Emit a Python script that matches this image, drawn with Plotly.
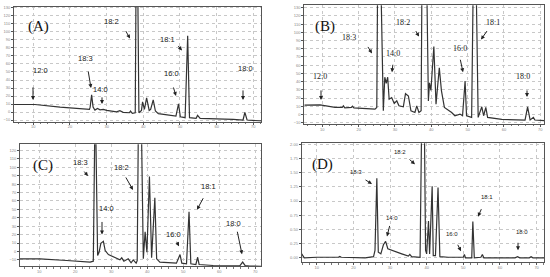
import plotly.graph_objects as go

W, H = 550, 277

# ---------------- data (retention time [min], detector signal) ----------------
a_time = [4.73, 10.0, 10.45, 17.3, 25.3, 25.5, 25.9, 26.3, 26.8, 27.5, 28.2, 29.1, 30.0, 32.7, 33.6,
          34.5, 36.2, 36.5, 37.0, 37.8, 38.0, 38.5, 38.8, 39.5, 39.8, 40.3, 40.9, 41.6, 42.0, 42.7,
          43.3, 44.1, 48.9, 49.6, 50.1, 51.4, 52.1, 52.6, 54.4, 54.8, 55.5, 64.5, 67.2, 67.7, 68.3, 72.1]
a_signal = [9.4, 10.2, 9.4, 6.1, 3.2, 6.1, 21.4, 6.1, 2.4, 4.5, 2.8, 3.2, 2.0, 0.3, 1.6,
            -0.5, -0.9, 1.2, -1.7, -0.9, 150, 150, -0.9, 2.0, 12.7, 3.2, 17.7, 2.0, 3.2, 15.2,
            1.2, -2.1, -5.0, 10.2, -5.9, -7.1, 95.4, -7.1, -7.9, -4.2, -7.9, -9.2, -10.0, -0.5, -10.0, -11.2]

b_time = [5.05, 9.4, 13.5, 15.5, 15.8, 16.2, 18.0, 18.3, 18.7, 24.5, 25.0, 25.2, 26.2, 26.8, 27.2, 27.6,
          28.0, 28.4, 29.1, 29.8, 30.5, 31.1, 32.3, 32.9, 33.7, 34.4, 35.5, 36.0, 36.6, 37.2, 37.4,
          38.8, 39.2, 39.5, 39.9, 40.7, 41.3, 42.2, 42.8, 43.6, 45.6, 46.5, 47.9, 48.6, 49.3, 49.7,
          51.1, 51.5, 52.4, 52.9, 53.9, 54.4, 55.0, 55.5, 59.4, 65.8, 66.5, 67.2, 68.1, 68.5, 71.1]
b_signal = [11.3, 11.7, 8.5, 8.5, 10.5, 8.0, 8.5, 10.0, 8.0, 6.5, 8.5, 145, 145, 4.5, 45.4, 38.0,
            45.4, 18.5, 20.5, 13.3, 16.5, 10.5, 9.3, 25.3, 22.5, 4.5, 2.4, 10.5, 2.4, 4.5, 145,
            145, 16.5, 38.6, 29.4, 82.8, 12.5, 56.7, 28.6, 8.5, 2.4, -1.6, 0.4, -1.6, 40.6, -1.6,
            -3.6, 145, 145, -3.6, 9.3, -1.6, 8.5, -3.6, -6.0, -6.8, 9.3, -6.8, -3.6, -6.8, -7.6]

c_time = [4.63, 10.2, 17.6, 24.1, 25.0, 25.4, 25.7, 26.2, 26.6, 27.1, 27.8, 28.3, 29.2, 30.6, 32.4,
          32.9, 33.5, 34.7, 35.5, 36.1, 36.9, 37.2, 37.5, 38.4, 38.9, 39.4, 39.9, 40.6, 41.2, 42.1,
          42.6, 43.5, 48.1, 49.1, 49.6, 50.9, 51.6, 52.1, 53.5, 54.0, 54.4, 58.3, 65.7, 66.5, 67.2,
          68.5, 71.6]
c_signal = [-8.8, -8.8, -10.8, -12.7, -11.6, 140, 140, -4.9, -1.0, 9.6, 12.0, 1.0, -3.7, -6.1, -10.0,
            -7.6, -11.6, -8.8, -13.5, -10.0, -13.9, -10.8, 140, 140, -8.8, 23.3, -1.0, 89.2, -7.6, 63.7,
            -8.8, -12.7, -13.9, -3.7, -13.9, -14.7, 47.3, -14.7, -15.5, -6.9, -15.5, -16.7, -17.1, -12.7, -16.9,
            -17.3, -17.6]

d_time = [5.9, 6.6, 10.0, 15.9, 16.3, 16.7, 23.2, 25.5, 25.9, 26.4, 26.8, 27.5, 28.2, 28.8, 29.4, 30.5,
          33.2, 35.0, 35.4, 35.9, 38.2, 38.6, 39.4, 39.7, 40.0, 40.5, 40.8, 41.5, 41.8, 42.4, 43.1,
          43.6, 45.9, 50.0, 50.3, 50.6, 52.3, 52.6, 53.0, 54.8, 55.2, 55.6, 64.1, 64.8, 65.4, 68.0,
          68.5, 69.0, 72.1]
d_signal = [0.07, 0.0, 0.01, 0.01, 0.025, 0.01, 0.0, 0.02, 0.13, 1.40, 0.10, 0.07, 0.23, 0.29, 0.16, 0.13,
            0.07, 0.03, 0.06, 0.02, 0.01, 2.2, 2.2, 0.13, 0.07, 0.65, 0.07, 1.26, 0.04, 0.04, 1.24,
            0.02, 0.01, 0.01, 0.06, 0.0, 0.0, 0.64, 0.0, 0.01, 0.06, 0.0, 0.0, 0.02, 0.0, 0.0,
            0.02, 0.0, 0.0]

x_ticks = [10, 20, 30, 40, 50, 60, 70]
a_yticks = list(range(-10, 131, 10))
b_yticks = list(range(-10, 131, 10))
c_yticks = list(range(-10, 121, 10))
d_yticks = [0.0, 0.25, 0.5, 0.75, 1.0, 1.25, 1.5, 1.75, 2.0]

panel_titles = ["(A)", "(B)", "(C)", "(D)"]
a_labels = ["12:0", "18:3", "14:0", "18:2", "18:1", "16:0", "18:0"]
b_labels = ["12:0", "18:3", "14:0", "18:2", "16:0", "18:1", "18:0"]
c_labels = ["18:3", "14:0", "18:2", "18:1", "16:0", "18:0"]
d_labels = ["18:2", "18:3", "14:0", "16:0", "18:1", "18:0"]

# ---------------- layout helpers ----------------
def dom(x0, x1, y0, y1):
    return [x0 / W, x1 / W], [1 - y1 / H, 1 - y0 / H]

panels = [
    dict(t=a_time, s=a_signal, box=(14, 261, 5, 121), xr=[4.73, 72.1], yr=[-12.1, 131.3], yt=a_yticks, fmt=None),
    dict(t=b_time, s=b_signal, box=(304.3, 544.3, 3.3, 123.3), xr=[5.05, 71.1], yr=[-11.6, 133], yt=b_yticks, fmt=None),
    dict(t=c_time, s=c_signal, box=(20, 261, 143.7, 267.3), xr=[4.63, 71.6], yr=[-17.8, 127.6], yt=c_yticks, fmt=None),
    dict(t=d_time, s=d_signal, box=(301.7, 544.3, 142.7, 263), xr=[5.9, 72.1], yr=[-0.076, 2.02], yt=d_yticks, fmt=".2f"),
]

fig = go.Figure()
layout = dict(width=W, height=H, margin=dict(l=0, r=0, t=0, b=0),
              paper_bgcolor="white", plot_bgcolor="white", showlegend=False)

for i, p in enumerate(panels):
    n = "" if i == 0 else str(i + 1)
    xd, yd = dom(*p["box"])
    fig.add_trace(go.Scatter(x=p["t"], y=p["s"], mode="lines",
                             line=dict(color="#333333", width=1.2),
                             xaxis="x" + n, yaxis="y" + n, hoverinfo="skip"))
    layout["xaxis" + n] = dict(domain=xd, range=p["xr"], anchor="y" + n,
                               tickvals=x_ticks, ticks="outside", ticklen=2, tickcolor="#555",
                               ticklabelstandoff=-1,
                               tickfont=dict(size=4, color="#888", family="Liberation Sans"),
                               showgrid=True, gridcolor="#c8c8c8", griddash="dot", gridwidth=0.6,
                               showline=True, mirror=True, linecolor="#555", linewidth=1,
                               zeroline=False, fixedrange=True,
                               minor=dict(dtick=2, ticks="outside", ticklen=1.5, tickcolor="#777", showgrid=False))
    layout["yaxis" + n] = dict(domain=yd, range=p["yr"], anchor="x" + n,
                               tickvals=p["yt"], ticks="outside", ticklen=2, tickcolor="#555",
                               tickformat=p["fmt"] or "",
                               tickfont=dict(size=4, color="#888", family="Liberation Sans"),
                               showgrid=True, gridcolor="#c8c8c8", griddash="dot", gridwidth=0.6,
                               showline=True, mirror=True, linecolor="#555", linewidth=1,
                               zeroline=False, fixedrange=True)

fig.update_layout(**layout)

# ---------------- annotations (pixel layout) ----------------
title_pos = [(38, 25), (325, 25), (43, 165), (322, 164)]
label_layout = [
    (a_labels, "Liberation Sans", 7.5,
     [(40, 69), (85, 57), (100, 88), (111, 20), (167, 38), (171, 72), (245, 67)],
     [((33, 85), (33, 99)), ((88, 69), (91, 87)), ((102, 95), (102, 103)), ((125, 28), (130, 37)),
      ((177, 43), (182, 49)), ((173, 85), (176, 95)), ((243, 88), (243, 99))]),
    (b_labels, "Liberation Serif", 8,
     [(320, 75), (349, 36), (393, 52), (403, 21), (460, 47), (493, 21), (523, 75)],
     [((321, 88), (321, 99)), ((367, 44), (372, 52)), ((393, 62), (392, 71)), ((415, 28), (419, 35)),
      ((460, 57), (463, 71)), ((488, 28), (481, 38)), ((527, 88), (527, 96))]),
    (c_labels, "Liberation Sans", 7.5,
     [(80, 162), (106, 209), (121, 167), (208, 187), (173, 235), (233, 224)],
     [((83, 170), (88, 176)), ((102, 221), (102, 235)), ((125, 176), (133, 190)),
      ((204, 197), (197, 210)), ((176, 241), (179, 247)), ((237, 231), (242, 255))]),
    (d_labels, "Liberation Sans", 6,
     [(400, 152), (356, 172), (392, 218), (452, 235), (487, 197), (522, 233)],
     [((408, 158), (415, 164)), ((364, 179), (372, 184)), ((390, 225), (387, 237)),
      ((457, 244), (461, 252)), ((482, 208), (478, 217)), ((518, 242), (518, 251))]),
]

for title, (px, py) in zip(panel_titles, title_pos):
    fig.add_annotation(x=px / W, y=1 - py / H, xref="paper", yref="paper", text=title,
                       showarrow=False, xanchor="center", yanchor="middle",
                       font=dict(family="Liberation Serif", size=15, color="#111"))

for labels, fam, size, tpos, arrows in label_layout:
    for lab, (px, py), ((x0, y0), (x1, y1)) in zip(labels, tpos, arrows):
        fig.add_annotation(x=px / W, y=1 - py / H, xref="paper", yref="paper", text=lab,
                           showarrow=False, xanchor="center", yanchor="middle",
                           font=dict(family=fam, size=size, color="#1a1a1a"))
        fig.add_annotation(x=x1 / W, y=1 - y1 / H, xref="paper", yref="paper", text="",
                           showarrow=True, ax=x0 - x1, ay=y0 - y1, arrowhead=2, arrowsize=0.8,
                           arrowwidth=1, arrowcolor="#222", standoff=0)

fig.write_html("out.html", config={"displayModeBar": False},
               post_script="document.body.style.margin='0';document.body.style.padding='0';")
